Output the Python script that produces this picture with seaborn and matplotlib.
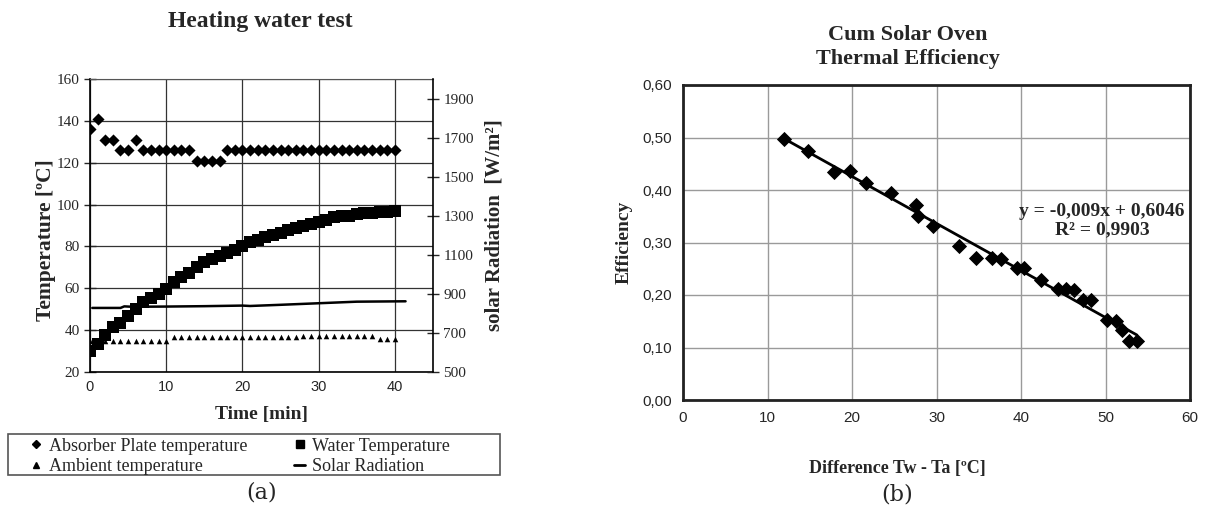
import numpy as np
import pandas as pd
import matplotlib
matplotlib.use("Agg")
import matplotlib.pyplot as plt
from matplotlib.patches import Rectangle
from matplotlib.lines import Line2D
import seaborn as sns

# ---- data: heating water test (a) ----
time_min = list(range(0, 41))
absorber_temp = [136, 141, 131, 131, 126, 126, 131, 126, 126, 126, 126, 126, 126, 126,
                 121, 121, 121, 121, 126, 126, 126, 126, 126, 126, 126, 126, 126, 126,
                 126, 126, 126, 126, 126, 126, 126, 126, 126, 126, 126, 126, 126]
water_temp = [30.1, 33.6, 37.8, 41.3, 43.5, 46.9, 50.1, 53.3, 55.4, 57.3, 59.7, 62.9,
              65.3, 67.5, 70.1, 72.5, 73.8, 75.2, 76.8, 78.1, 80.0, 81.9, 83.2, 84.5,
              85.3, 86.6, 87.7, 88.8, 89.8, 90.9, 91.8, 92.8, 94.1, 94.6, 94.6, 95.5,
              96.2, 96.2, 96.3, 96.5, 96.8]
ambient_temp = [35, 35, 35, 35, 35, 35, 35, 35, 35, 35, 35, 36.5, 36.5, 36.5, 36.5,
                36.5, 36.5, 36.5, 36.5, 36.5, 36.5, 36.5, 36.5, 36.5, 36.5, 36.5, 36.5,
                36.5, 37, 37, 37, 37, 37, 37, 37, 37, 37, 37, 36, 36, 36]
solar_time = [0.3, 4.0, 4.5, 5.5, 10, 15, 20, 21, 25, 30, 35, 41.4]
solar_rad = [828, 828, 836, 834, 835, 837, 840, 838, 844, 852, 860, 862]

# ---- data: thermal efficiency (b) ----
temp_diff = [12.0, 14.8, 17.9, 19.8, 21.7, 24.6, 27.6, 27.8, 29.6, 32.7, 34.7, 36.6,
             37.6, 39.5, 40.4, 42.4, 44.4, 45.3, 46.3, 47.3, 48.3, 50.2, 51.2, 51.9,
             52.8, 53.7]
efficiency = [0.498, 0.474, 0.434, 0.437, 0.413, 0.395, 0.372, 0.350, 0.331, 0.294,
              0.270, 0.271, 0.268, 0.251, 0.251, 0.229, 0.211, 0.211, 0.209, 0.190,
              0.190, 0.152, 0.151, 0.133, 0.113, 0.112]
eff_ticks = [0.0, 0.1, 0.2, 0.3, 0.4, 0.5, 0.6]
eff_labels = ["0,00", "0,10", "0,20", "0,30", "0,40", "0,50", "0,60"]

sns.set_style("white")
plt.rcParams["font.family"] = ["Liberation Serif", "DejaVu Serif"]
SERIF = ["Liberation Serif", "DejaVu Serif"]
SANS = ["Liberation Sans", "DejaVu Sans"]

W, H = 1205, 514
fig = plt.figure(figsize=(W / 100, H / 100), dpi=100)

def fx(px):
    return px / W

def fy(py):
    return 1 - py / H

# ================= (a) =================
ax1 = fig.add_axes([fx(90), fy(372), fx(343), 293 / H])
sns.scatterplot(x=time_min, y=absorber_temp, marker="D", s=38, color="black",
                linewidth=0, ax=ax1)
sns.scatterplot(x=time_min, y=water_temp, marker="s", s=70, color="black",
                linewidth=0, ax=ax1)
sns.scatterplot(x=time_min, y=ambient_temp, marker="^", s=16, color="black",
                linewidth=0, ax=ax1)
ax1.set_xlim(0, 45)
ax1.set_ylim(20, 160)
ax1.set_xticks([0, 10, 20, 30, 40])
ax1.set_yticks(range(20, 161, 20))
ax1.grid(True, color="#333333", lw=0.9)
ax1.set_axisbelow(True)
for s in ["left", "bottom"]:
    ax1.spines[s].set_color("black")
    ax1.spines[s].set_linewidth(1.2)
ax1.spines["top"].set_color("#555555")
ax1.spines["top"].set_linewidth(0.8)
ax1.spines["right"].set_visible(False)
ax1.tick_params(axis="y", direction="inout", length=8, width=1, labelsize=11)
ax1.tick_params(axis="x", direction="inout", length=8, width=1, labelsize=10.5, pad=2)
for t in ax1.get_yticklabels():
    t.set_family(SERIF)
for t in ax1.get_xticklabels():
    t.set_family(SANS)
ax1.set_xlabel("Time [min]", fontsize=14, fontweight="bold", family=SERIF)
ax1.xaxis.set_label_coords(0.5, -0.117)
ax1.set_ylabel("Temperature [ºC]", fontsize=15.5, fontweight="bold", family=SERIF)
ax1.yaxis.set_label_coords(-0.098, 0.45)

ax2 = ax1.twinx()
sns.lineplot(x=solar_time, y=solar_rad, color="black", lw=1.8, ax=ax2)
ax2.set_ylim(500, 2000)
ax2.set_yticks(range(500, 2000, 200))
ax2.spines["right"].set_color("black")
ax2.spines["right"].set_linewidth(1.2)
for s in ["left", "top", "bottom"]:
    ax2.spines[s].set_visible(False)
ax2.tick_params(axis="y", direction="inout", length=8, width=1, labelsize=11)
for t in ax2.get_yticklabels():
    t.set_family(SERIF)
ax2.set_ylabel("solar Radiation  [W/m²]", fontsize=15, fontweight="bold", family=SERIF)
ax2.yaxis.set_label_coords(1.15, 0.5)

fig.text(fx(260), fy(22), "Heating water test", ha="center", va="center",
         fontsize=17, fontweight="bold", family=SERIF)

handles = [
    Line2D([], [], marker="D", ls="none", color="black", markersize=4.5),
    Line2D([], [], marker="^", ls="none", color="black", markersize=4),
    Line2D([], [], marker="s", ls="none", color="black", markersize=6),
    Line2D([], [], color="black", lw=2),
]
labels = ["Absorber Plate temperature", "Ambient temperature",
          "Water Temperature", "Solar Radiation"]
fig.patches.append(Rectangle((fx(8), fy(475)), fx(492), 41 / H, transform=fig.transFigure,
                             fill=False, edgecolor="#555555", lw=1.2))
fig.legend(handles, labels, loc="upper left", bbox_to_anchor=(fx(18), fy(425)),
           ncol=2, frameon=False, handlelength=0.6, handletextpad=0.4,
           columnspacing=2.6, labelspacing=0.2, borderpad=0.2,
           prop={"family": SERIF, "size": 13})

fig.text(fx(262), fy(493), "(a)", ha="center", va="center", fontsize=16,
         family=["DejaVu Serif"])

# ================= (b) =================
ax3 = fig.add_axes([fx(683), fy(400), fx(507), 315 / H])
sns.regplot(x=temp_diff, y=efficiency, ci=None, marker="D", color="black",
            scatter_kws={"s": 60, "linewidths": 0, "alpha": 1},
            line_kws={"color": "black", "lw": 2}, ax=ax3)
ax3.set_xlim(0, 60)
ax3.set_ylim(0, 0.6)
ax3.set_xticks(range(0, 61, 10))
ax3.set_yticks(eff_ticks)
ax3.set_yticklabels(eff_labels)
ax3.grid(True, color="#9a9a9a", lw=1)
ax3.set_axisbelow(True)
for s in ax3.spines.values():
    s.set_color("#222222")
    s.set_linewidth(2)
ax3.tick_params(length=0, labelsize=11, pad=8)
for t in ax3.get_xticklabels() + ax3.get_yticklabels():
    t.set_family(SANS)
ax3.set_xlabel("Difference Tw - Ta [ºC]", fontsize=13, fontweight="bold", family=SERIF)
ax3.xaxis.set_label_coords((897 - 683) / 507, -(460 - 400) / 315)
ax3.set_ylabel("Efficiency", fontsize=14, fontweight="bold", family=SERIF)
ax3.yaxis.set_label_coords(-(683 - 633) / 507, 0.5)
ax3.text(49.6, 0.342, "y = -0,009x + 0,6046\nR² = 0,9903", ha="center", va="center",
         fontsize=14, fontweight="bold", family=SERIF, linespacing=1.1)

fig.text(fx(908), fy(47), "Cum Solar Oven\nThermal Efficiency", ha="center",
         va="center", fontsize=16, fontweight="bold", family=SERIF, linespacing=1.3)
fig.text(fx(897), fy(495), "(b)", ha="center", va="center", fontsize=16,
         family=["DejaVu Serif"])

fig.savefig("out.png", dpi=100)
